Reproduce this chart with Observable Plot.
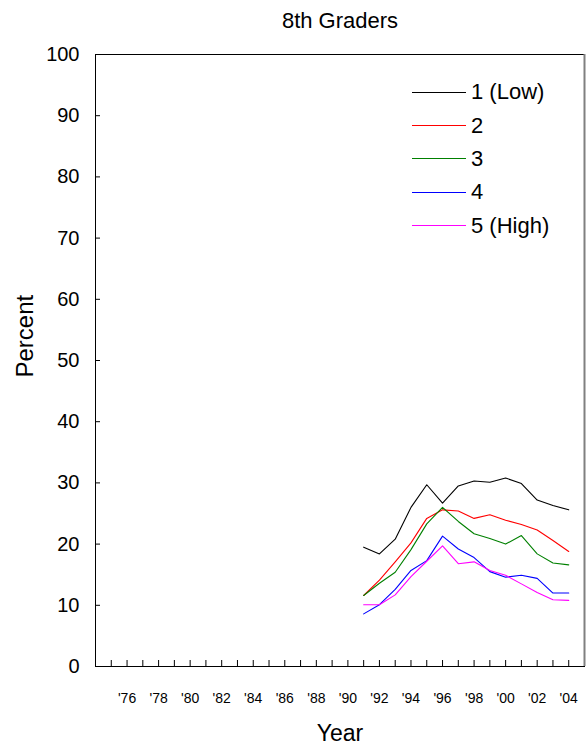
<!DOCTYPE html>
<html>
<head>
<meta charset="utf-8">
<script src="https://cdn.jsdelivr.net/npm/d3@7"></script>
<script src="https://cdn.jsdelivr.net/npm/@observablehq/plot@0.6"></script>
<style>
  html, body { margin: 0; padding: 0; background: #fff; }
  #wrap { position: relative; width: 586px; height: 746px; font-family: "Liberation Sans", Arial, sans-serif; }
  #legend { position: absolute; left: 412px; top: 75.6px; }
  .row { display: flex; align-items: center; height: 33.35px; }
  .swatch { width: 54px; height: 0; border-top: 1.2px solid; margin-right: 5px; }
  .lab { font-size: 22px; color: #000; line-height: 1; }
</style>
</head>
<body>
<div id="wrap"><div id="legend"></div></div>
<script>
const years = [1991,1992,1993,1994,1995,1996,1997,1998,1999,2000,2001,2002,2003,2004];
const seriesNames = ["1 (Low)", "2", "3", "4", "5 (High)"];
const seriesColors = ["#000000", "#ff0000", "#008000", "#0000ff", "#ff00ff"];
const low  = [19.5,18.4,20.8,26.0,29.7,26.7,29.5,30.3,30.1,30.8,29.9,27.2,26.3,25.6];
const g2   = [11.6,14.1,17.1,20.2,24.2,25.6,25.4,24.2,24.8,23.9,23.2,22.3,20.6,18.8];
const g3   = [11.6,13.6,15.4,19.1,23.3,26.0,23.7,21.7,20.9,20.0,21.4,18.4,16.9,16.6];
const g4   = [8.6,10.1,12.6,15.7,17.3,21.3,19.2,17.8,15.5,14.6,14.9,14.4,12.0,12.0];
const high = [10.1,10.1,11.7,14.7,17.2,19.7,16.8,17.1,15.7,14.9,13.5,12.1,10.9,10.8];
const yTicks = [0,10,20,30,40,50,60,70,80,90,100];
const xTickYears = d3.range(1975, 2005);
const xLabelYears = [1976,1978,1980,1982,1984,1986,1988,1990,1992,1994,1996,1998,2000,2002,2004];
const xDomain = [1974, 2005];

const seriesValues = [low, g2, g3, g4, high];
const rows = [];
seriesValues.forEach((vals, i) => vals.forEach((v, j) => rows.push({year: years[j], value: v, series: seriesNames[i]})));

const chart = Plot.plot({
  width: 586,
  height: 746,
  marginLeft: 95,
  marginRight: 2,
  marginTop: 54,
  marginBottom: 80,
  style: {fontFamily: "'Liberation Sans', Arial, sans-serif", fontSize: "20px", color: "#000", background: "#fff"},
  x: {domain: xDomain},
  y: {domain: [0, 100]},
  color: {domain: seriesNames, range: seriesColors},
  marks: [
    Plot.frame({stroke: "#000", strokeWidth: 1}),
    Plot.ruleX([xDomain[1]], {stroke: "#808080", strokeWidth: 2}),
    Plot.axisY({ticks: yTicks, tickSize: 0, tickPadding: 16, fontSize: 20, label: null}),
    Plot.axisY({ticks: yTicks, tickSize: -5, tickFormat: () => "", label: null}),
    Plot.axisX({ticks: xLabelYears, tickSize: 0, tickPadding: 27, fontSize: 14, tickFormat: d => "'" + String(d).slice(2), label: null}),
    Plot.axisX({ticks: xTickYears, tickSize: -6, tickFormat: () => "", label: null}),
    Plot.line(rows, {x: "year", y: "value", z: "series", stroke: "series", strokeWidth: 1.1}),
    Plot.text(["8th Graders"], {text: d => d, frameAnchor: "top", dy: -42, fontSize: 22}),
    Plot.text(["Year"], {text: d => d, frameAnchor: "bottom", dy: 74, fontSize: 23}),
    Plot.text(["Percent"], {text: d => d, frameAnchor: "left", dx: -70, dy: 17, rotate: -90, fontSize: 24})
  ]
});
document.getElementById("wrap").prepend(chart);

const legend = d3.select("#legend");
seriesNames.forEach((name, i) => {
  const r = legend.append("div").attr("class", "row");
  r.append("div").attr("class", "swatch").style("border-top-color", seriesColors[i]);
  r.append("div").attr("class", "lab").text(name);
});
</script>
</body>
</html>
